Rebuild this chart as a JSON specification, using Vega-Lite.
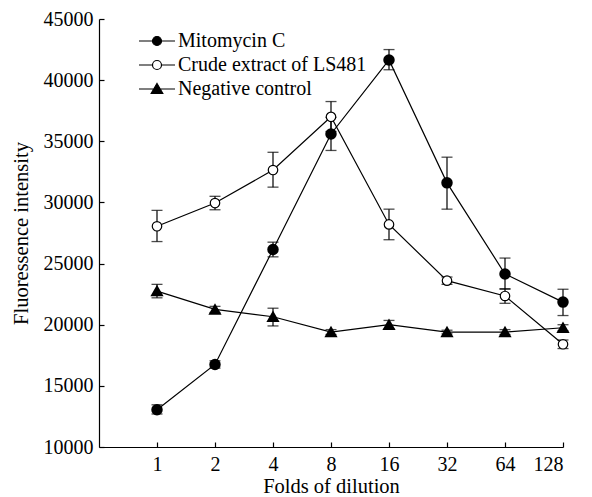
{
  "$schema": "https://vega.github.io/schema/vega-lite/v6.json",
  "width": 464,
  "height": 428,
  "autosize": "none",
  "padding": {"left": 99, "top": 19, "right": 29, "bottom": 50},
  "background": "white",
  "config": {
    "view": {"stroke": null},
    "font": "Liberation Serif, Times New Roman, serif",
    "axis": {
      "labelFont": "Liberation Serif, Times New Roman, serif",
      "titleFont": "Liberation Serif, Times New Roman, serif",
      "labelFontSize": 20,
      "titleFontSize": 20.5,
      "labelColor": "black",
      "titleColor": "black",
      "titleFontWeight": "normal",
      "domainColor": "black",
      "tickColor": "black",
      "domainWidth": 1.2,
      "tickWidth": 1.2,
      "grid": false
    },
    "legend": {
      "labelFont": "Liberation Serif, Times New Roman, serif",
      "labelFontSize": 20,
      "labelColor": "black",
      "labelLimit": 0
    }
  },
  "data": {
    "values": [
      {"fold": 1, "series": "Mitomycin C", "mean": 13050, "lo": 12700, "hi": 13450},
      {"fold": 2, "series": "Mitomycin C", "mean": 16750, "lo": 16450, "hi": 17050},
      {"fold": 4, "series": "Mitomycin C", "mean": 26150, "lo": 25550, "hi": 26750},
      {"fold": 8, "series": "Mitomycin C", "mean": 35600, "lo": 34250, "hi": 36950},
      {"fold": 16, "series": "Mitomycin C", "mean": 41650, "lo": 40850, "hi": 42500},
      {"fold": 32, "series": "Mitomycin C", "mean": 31600, "lo": 29450, "hi": 33700},
      {"fold": 64, "series": "Mitomycin C", "mean": 24150, "lo": 22900, "hi": 25450},
      {"fold": 128, "series": "Mitomycin C", "mean": 21850, "lo": 20750, "hi": 22900},
      {"fold": 1, "series": "Crude extract of LS481", "mean": 28050, "lo": 26800, "hi": 29350},
      {"fold": 2, "series": "Crude extract of LS481", "mean": 29950, "lo": 29400, "hi": 30500},
      {"fold": 4, "series": "Crude extract of LS481", "mean": 32650, "lo": 31250, "hi": 34100},
      {"fold": 8, "series": "Crude extract of LS481", "mean": 37000, "lo": 35800, "hi": 38250},
      {"fold": 16, "series": "Crude extract of LS481", "mean": 28200, "lo": 26950, "hi": 29450},
      {"fold": 32, "series": "Crude extract of LS481", "mean": 23600, "lo": 23300, "hi": 23900},
      {"fold": 64, "series": "Crude extract of LS481", "mean": 22350, "lo": 21750, "hi": 22950},
      {"fold": 128, "series": "Crude extract of LS481", "mean": 18400, "lo": 18050, "hi": 18750},
      {"fold": 1, "series": "Negative control", "mean": 22750, "lo": 22200, "hi": 23300},
      {"fold": 2, "series": "Negative control", "mean": 21250, "lo": 21000, "hi": 21500},
      {"fold": 4, "series": "Negative control", "mean": 20650, "lo": 19900, "hi": 21350},
      {"fold": 8, "series": "Negative control", "mean": 19400, "lo": 19200, "hi": 19600},
      {"fold": 16, "series": "Negative control", "mean": 20000, "lo": 19650, "hi": 20350},
      {"fold": 32, "series": "Negative control", "mean": 19400, "lo": 19250, "hi": 19550},
      {"fold": 64, "series": "Negative control", "mean": 19400, "lo": 19200, "hi": 19600},
      {"fold": 128, "series": "Negative control", "mean": 19750, "lo": 19500, "hi": 20000}
    ]
  },
  "encoding": {
    "x": {
      "field": "fold",
      "type": "quantitative",
      "scale": {"type": "log", "base": 2, "domain": [0.5, 128], "nice": false},
      "axis": {
        "title": "Folds of dilution",
        "values": [1, 2, 4, 8, 16, 32, 64, 128],
        "format": "d",
        "tickSize": -5,
        "labelPadding": 12,
        "titleBaseline": "alphabetic",
        "titleY": 45
      }
    }
  },
  "layer": [
    {
      "mark": {"type": "line", "color": "black", "strokeWidth": 1.2},
      "encoding": {
        "y": {
          "field": "mean",
          "type": "quantitative",
          "scale": {"domain": [10000, 45000], "nice": false, "zero": false},
          "axis": {
            "title": "Fluoressence intensity",
            "values": [10000, 15000, 20000, 25000, 30000, 35000, 40000, 45000],
            "format": "d",
            "tickSize": -5,
            "labelPadding": 11,
            "titleBaseline": "alphabetic",
            "titleX": -72
          }
        },
        "detail": {"field": "series"}
      }
    },
    {
      "mark": {"type": "rule", "color": "black", "strokeWidth": 1.2},
      "encoding": {
        "y": {"field": "lo", "type": "quantitative"},
        "y2": {"field": "hi"}
      }
    },
    {
      "mark": {"type": "tick", "orient": "horizontal", "color": "black", "size": 11, "thickness": 1.3},
      "encoding": {"y": {"field": "lo", "type": "quantitative"}}
    },
    {
      "mark": {"type": "tick", "orient": "horizontal", "color": "black", "size": 11, "thickness": 1.3},
      "encoding": {"y": {"field": "hi", "type": "quantitative"}}
    },
    {
      "transform": [{"filter": "datum.series === 'Mitomycin C'"}],
      "mark": {"type": "point", "shape": "circle", "filled": true, "fill": "black", "stroke": "black", "size": 90, "opacity": 1},
      "encoding": {"y": {"field": "mean", "type": "quantitative"}}
    },
    {
      "transform": [{"filter": "datum.series === 'Crude extract of LS481'"}],
      "mark": {"type": "point", "shape": "circle", "fill": "white", "stroke": "black", "strokeWidth": 1.2, "size": 90, "opacity": 1},
      "encoding": {"y": {"field": "mean", "type": "quantitative"}}
    },
    {
      "transform": [{"filter": "datum.series === 'Negative control'"}],
      "mark": {"type": "point", "shape": "triangle-up", "filled": true, "fill": "black", "stroke": "black", "size": 95, "opacity": 1},
      "encoding": {"y": {"field": "mean", "type": "quantitative"}}
    },
    {
      "mark": {"type": "point", "opacity": 0, "strokeWidth": 1.2},
      "encoding": {
        "y": {"field": "mean", "type": "quantitative"},
        "shape": {
          "field": "series",
          "type": "nominal",
          "scale": {
            "domain": ["Mitomycin C", "Crude extract of LS481", "Negative control"],
            "range": [
              "M-6,0L-1.5,0M1.5,0L6,0M-1.5,0A1.5,1.5,0,1,0,1.5,0A1.5,1.5,0,1,0,-1.5,0Z",
              "M-6,0L-1.5,0M1.5,0L6,0M-1.5,0A1.5,1.5,0,1,0,1.5,0A1.5,1.5,0,1,0,-1.5,0Z",
              "M-6,0L6,0M0,-1.83L1.93,1.5L-1.93,1.5Z"
            ]
          },
          "legend": {
            "title": null,
            "orient": "none",
            "legendX": 48,
            "legendY": 12,
            "padding": 0,
            "symbolSize": 36,
            "symbolOpacity": 1,
            "symbolStrokeWidth": 1.2,
            "labelOffset": 11,
            "rowPadding": 4,
            "labelLimit": 0
          }
        },
        "fill": {
          "field": "series",
          "type": "nominal",
          "scale": {
            "domain": ["Mitomycin C", "Crude extract of LS481", "Negative control"],
            "range": ["black", "white", "black"]
          },
          "legend": {
            "title": null,
            "orient": "none",
            "legendX": 48,
            "legendY": 12,
            "padding": 0,
            "symbolSize": 36,
            "symbolOpacity": 1,
            "symbolStrokeWidth": 1.2,
            "labelOffset": 11,
            "rowPadding": 4,
            "labelLimit": 0
          }
        },
        "stroke": {
          "field": "series",
          "type": "nominal",
          "scale": {
            "domain": ["Mitomycin C", "Crude extract of LS481", "Negative control"],
            "range": ["black", "black", "black"]
          },
          "legend": {
            "title": null,
            "orient": "none",
            "legendX": 48,
            "legendY": 12,
            "padding": 0,
            "symbolSize": 36,
            "symbolOpacity": 1,
            "symbolStrokeWidth": 1.2,
            "labelOffset": 11,
            "rowPadding": 4,
            "labelLimit": 0
          }
        }
      }
    }
  ]
}
